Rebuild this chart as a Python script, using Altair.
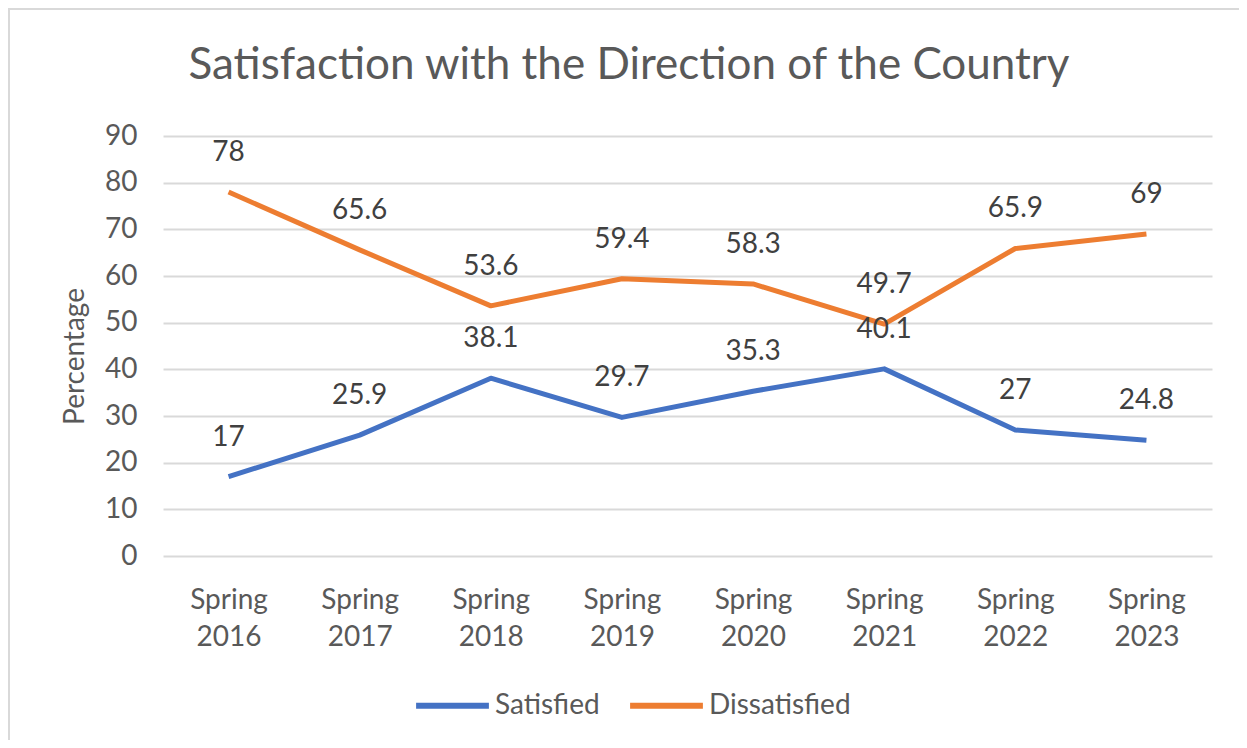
import altair as alt
import pandas as pd

years = ["Spring 2016", "Spring 2017", "Spring 2018", "Spring 2019",
         "Spring 2020", "Spring 2021", "Spring 2022", "Spring 2023"]
satisfied = [17, 25.9, 38.1, 29.7, 35.3, 40.1, 27, 24.8]
dissatisfied = [78, 65.6, 53.6, 59.4, 58.3, 49.7, 65.9, 69]
series_names = ["Satisfied", "Dissatisfied"]
series_colors = ["#4472C4", "#ED7D31"]
title_text = "Satisfaction with the Direction of the Country"

rows = []
for y, s, d in zip(years, satisfied, dissatisfied):
    rows.append({"year": y, "series": "Satisfied", "value": s})
    rows.append({"year": y, "series": "Dissatisfied", "value": d})
df = pd.DataFrame(rows)

FONT = "Lato"
GRAY = "#595959"
FS = 28

x_enc = alt.X("year:N", sort=years, title=None,
              scale=alt.Scale(paddingInner=1, paddingOuter=0.5),
              axis=alt.Axis(labelExpr="split(datum.label, ' ')", labelAngle=0,
                            labelFontSize=FS, labelColor=GRAY, labelFont=FONT,
                            labelLineHeight=37, labelPadding=30, domain=False,
                            ticks=False, grid=False, labelBaseline="top"))
y_enc = alt.Y("value:Q", title="Percentage",
              scale=alt.Scale(domain=[0, 90], nice=False),
              axis=alt.Axis(values=list(range(0, 91, 10)), labelFontSize=FS,
                            labelColor=GRAY, labelFont=FONT, labelPadding=26,
                            domain=False, ticks=False, gridColor="#d9d9d9",
                            gridWidth=2, titleFontSize=FS, titleFont=FONT,
                            titleColor=GRAY, titleFontWeight="normal",
                            titleAngle=-90, titleX=-88, titleY=220,
                            titleAlign="center", titleBaseline="middle"))
color_enc = alt.Color("series:N", sort=series_names,
                      scale=alt.Scale(domain=series_names, range=series_colors),
                      legend=alt.Legend(orient="none", direction="horizontal",
                                        legendX=250, legendY=530, title=None,
                                        symbolType="stroke", symbolSize=5300,
                                        symbolStrokeWidth=6, labelFontSize=FS,
                                        labelFont=FONT, labelColor=GRAY,
                                        labelOffset=3, columnPadding=18))

base = alt.Chart(df)
lines = base.mark_line(strokeWidth=5, strokeJoin="round").encode(
    x=x_enc, y=y_enc, color=color_enc, detail="series:N")
labels = base.mark_text(dy=-39, fontSize=FS, font=FONT, color="#404040").encode(
    x=alt.X("year:N", sort=years), y="value:Q", text=alt.Text("value:Q"))

one = pd.DataFrame({"t": [title_text]})
border_left = alt.Chart(one).mark_rule(stroke="#d9d9d9", strokeWidth=2).encode(
    x=alt.value(-154), y=alt.value(-128), y2=alt.value(800))
border_top = alt.Chart(one).mark_rule(stroke="#d9d9d9", strokeWidth=2).encode(
    x=alt.value(-155), x2=alt.value(1300), y=alt.value(-127))
title = alt.Chart(one).mark_text(fontSize=44, font=FONT, color=GRAY,
                                 baseline="middle", align="center").encode(
    x=alt.value(466), y=alt.value(-70), text="t:N")

chart = alt.layer(border_left, border_top, title, lines, labels).properties(
    width=1049, height=420,
    autosize=alt.AutoSizeParams(type="none"),
    padding={"left": 155, "top": 128, "right": 27, "bottom": 184},
).configure_view(stroke=None)

chart.save("out.html", embed_options={"renderer": "svg", "actions": False})
